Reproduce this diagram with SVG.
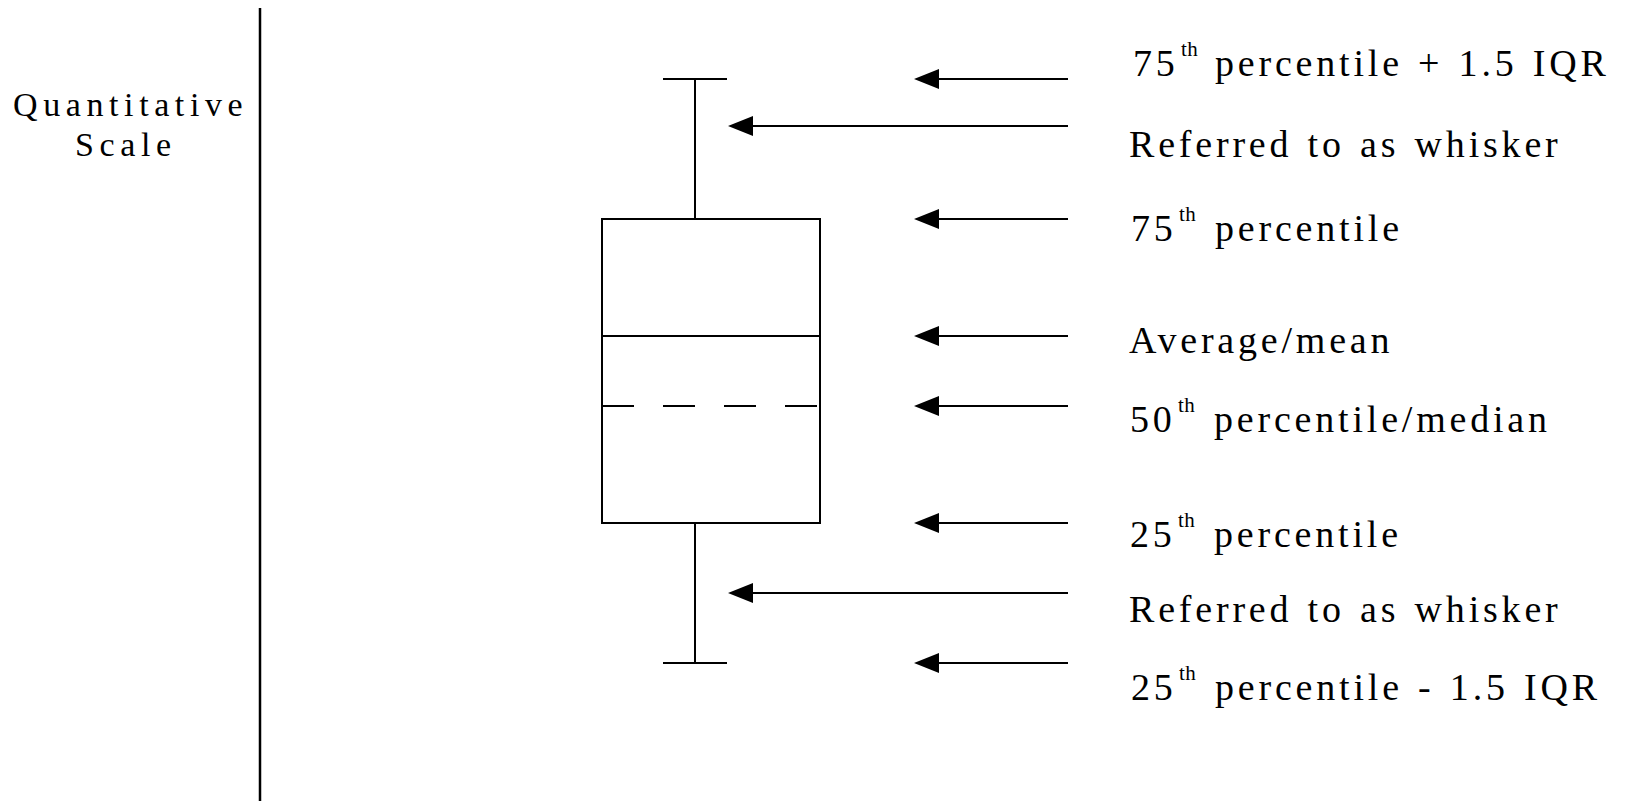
<svg xmlns="http://www.w3.org/2000/svg" width="1648" height="801" viewBox="0 0 1648 801">
<style>
  .ln { stroke: #000; stroke-width: 2; fill: none; }
  .t { font-family: "Liberation Serif", "Times New Roman", serif; font-size: 38px; letter-spacing: 3.8px; word-spacing: 2px; fill: #000; }
  .sup { font-size: 21px; letter-spacing: 0.5px; }
  .ax { font-family: "Liberation Serif", "Times New Roman", serif; font-size: 34px; letter-spacing: 5.6px; fill: #000; }
</style>
<defs>
  <marker id="ah" markerUnits="userSpaceOnUse" markerWidth="26" markerHeight="22" refX="15" refY="10" orient="auto">
    <path d="M0,0 L25,10 L0,20 z" fill="#000"/>
  </marker>
</defs>
<rect width="1648" height="801" fill="#fff"/>

<g id="axis">
  <line x1="260" y1="8" x2="260" y2="801" stroke="#000" stroke-width="2.5"/>
  <text class="ax" x="13" y="116">Quantitative</text>
  <text class="ax" x="75" y="156">Scale</text>
</g>

<g id="boxplot">
  <line class="ln" x1="663" y1="79" x2="727" y2="79"/>
  <line class="ln" x1="695" y1="79" x2="695" y2="219"/>
  <rect class="ln" x="602" y="219" width="218" height="304"/>
  <line class="ln" x1="602" y1="336" x2="820" y2="336"/>
  <line class="ln" x1="602" y1="406" x2="820" y2="406" stroke-dasharray="32 29"/>
  <line class="ln" x1="695" y1="523" x2="695" y2="663"/>
  <line class="ln" x1="663" y1="663" x2="727" y2="663"/>
</g>

<g id="connectors">
  <line class="ln" x1="1068" y1="79" x2="924" y2="79" marker-end="url(#ah)"/>
  <line class="ln" x1="1068" y1="126" x2="738" y2="126" marker-end="url(#ah)"/>
  <line class="ln" x1="1068" y1="219" x2="924" y2="219" marker-end="url(#ah)"/>
  <line class="ln" x1="1068" y1="336" x2="924" y2="336" marker-end="url(#ah)"/>
  <line class="ln" x1="1068" y1="406" x2="924" y2="406" marker-end="url(#ah)"/>
  <line class="ln" x1="1068" y1="523" x2="924" y2="523" marker-end="url(#ah)"/>
  <line class="ln" x1="1068" y1="593" x2="738" y2="593" marker-end="url(#ah)"/>
  <line class="ln" x1="1068" y1="663" x2="924" y2="663" marker-end="url(#ah)"/>
</g>

<g id="label-upper-fence">
  <text class="t" x="1133" y="76">75<tspan class="sup" x="1181" dy="-20">th</tspan><tspan x="1215" dy="20">percentile + 1.5 IQR</tspan></text>
</g>
<g id="label-upper-whisker">
  <text class="t" x="1129" y="157">Referred to as whisker</text>
</g>
<g id="label-q3">
  <text class="t" x="1131" y="241">75<tspan class="sup" x="1179" dy="-20">th</tspan><tspan x="1215" dy="20">percentile</tspan></text>
</g>
<g id="label-mean">
  <text class="t" x="1129" y="353">Average/mean</text>
</g>
<g id="label-median">
  <text class="t" x="1130" y="432">50<tspan class="sup" x="1178" dy="-20">th</tspan><tspan x="1214" dy="20">percentile/median</tspan></text>
</g>
<g id="label-q1">
  <text class="t" x="1130" y="547">25<tspan class="sup" x="1178" dy="-20">th</tspan><tspan x="1214" dy="20">percentile</tspan></text>
</g>
<g id="label-lower-whisker">
  <text class="t" x="1129" y="622">Referred to as whisker</text>
</g>
<g id="label-lower-fence">
  <text class="t" x="1131" y="700">25<tspan class="sup" x="1179" dy="-20">th</tspan><tspan x="1215" dy="20">percentile - 1.5 IQR</tspan></text>
</g>
</svg>
